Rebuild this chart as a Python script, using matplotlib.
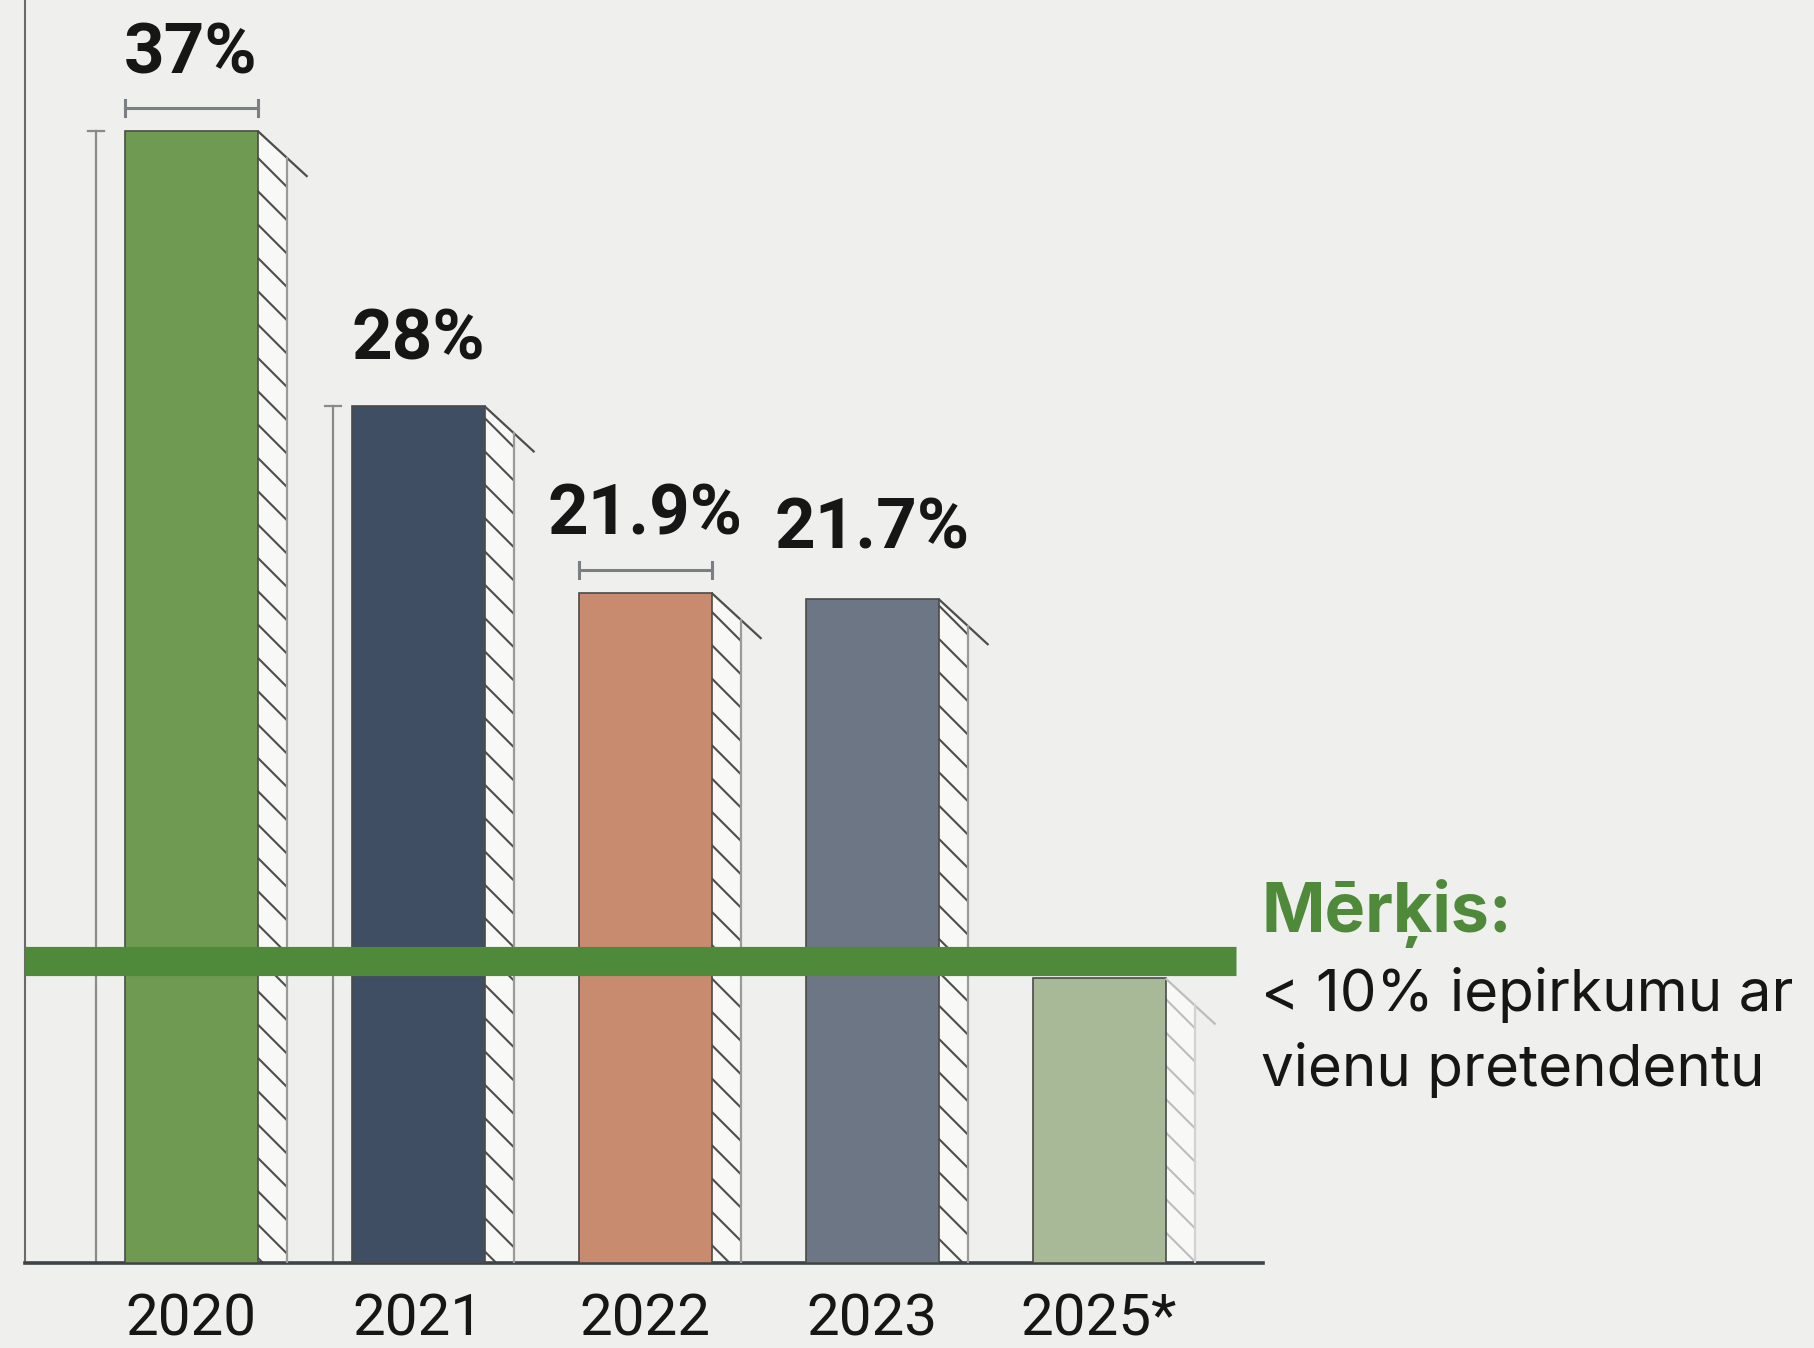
import matplotlib
matplotlib.use("Agg")
import matplotlib.pyplot as plt

# --- data -------------------------------------------------------------
years = ["2020", "2021", "2022", "2023", "2025*"]
shares = [37.0, 28.0, 21.9, 21.7, 9.3]          # % of procurements with a single bidder
value_labels = ["37%", "28%", "21.9%", "21.7%", ""]
target = 10.0
goal_title = "Mērķis:"
goal_lines = ["< 10% iepirkumu ar", "vienu pretendentu"]

# --- style ------------------------------------------------------------
bg = "#efefed"
bar_colors = ["#6f9a52", "#3f4e62", "#c98b6f", "#6d7684", "#a8b998"]
goal_color = "#4f8a3b"
text_color = "#161616"

W, H = 1814, 1348
base_px = 1263            # baseline row in pixels
px_per_y = 30.6           # pixels per percentage point
px_per_x = 227.0          # pixels between bar centres
x0_px = 191.0             # centre of first bar
left_px = 25

plt.rcParams["hatch.linewidth"] = 1.5

fig = plt.figure(figsize=(W / 100, H / 100), dpi=100, facecolor=bg)
ax = fig.add_axes([left_px / W, (H - base_px) / H, (base_px - left_px) / W, base_px / H])
ax.set_facecolor(bg)
ax.set_xlim(-(x0_px - left_px) / px_per_x, (base_px - x0_px) / px_per_x)
ax.set_ylim(0, base_px / px_per_y)


def dx(px):
    return px / px_per_x


def dy(px):
    return px / px_per_y


xs = list(range(len(years)))
bw = dx(133)
sw = dx(29)

for i, (x, v, c) in enumerate(zip(xs, shares, bar_colors)):
    faded = i == len(xs) - 1
    ax.bar(x, v, width=bw, color=c, edgecolor="#4a4a4a", linewidth=1.2, zorder=3)
    # hatched side strip with a slanted top
    hcol = "#bdbdbd" if faded else "#4d4d4d"
    xr = x + bw / 2
    ax.fill([xr, xr, xr + sw, xr + sw], [0, v, v - dy(27), 0],
            facecolor="#f8f8f6", hatch="\\", edgecolor=hcol, linewidth=0, zorder=2)
    ax.plot([xr, xr + dx(50)], [v, v - dy(46)], color=hcol, lw=1.6, zorder=4,
            solid_capstyle="butt")
    ax.plot([xr + sw, xr + sw], [0, v - dy(27)], color="#9a9a9a" if not faded else "#d2d2d2",
            lw=1.6, zorder=4)

# thin reference markers left of the first two bars
for i, gap in [(0, 29), (1, 19)]:
    lx = xs[i] - bw / 2 - dx(gap)
    ax.plot([lx, lx], [0, shares[i]], color="#8a8a8a", lw=1.6, zorder=2)
    ax.plot([lx - dx(8), lx + dx(8)], [shares[i], shares[i]], color="#8a8a8a", lw=1.6, zorder=2)

# width brackets above 2020 and 2022
for i in (0, 2):
    by = shares[i] + dy(23)
    l, r = xs[i] - bw / 2, xs[i] + bw / 2
    ax.plot([l, r], [by, by], color="#7a7f84", lw=2.2, zorder=3)
    for ex in (l, r):
        ax.plot([ex, ex], [by - dy(8), by + dy(8)], color="#7a7f84", lw=2.2, zorder=3)

# value labels
label_gap = [77, 66, 78, 70, 0]
for x, v, t, g in zip(xs, shares, value_labels, label_gap):
    if t:
        ax.text(x, v + dy(g), t, ha="center", va="center", fontsize=51,
                fontweight="bold", family="Roboto", color=text_color, zorder=5)

# target line
ax.hlines(target - dy(4), ax.get_xlim()[0], ax.get_xlim()[0] + dx(1236 - left_px),
          color=goal_color, lw=21, zorder=6, capstyle="butt")

# axes styling
for s in ("top", "right"):
    ax.spines[s].set_visible(False)
ax.spines["left"].set_color("#6a6a6a")
ax.spines["left"].set_linewidth(1.5)
ax.spines["bottom"].set_color("#3d4347")
ax.spines["bottom"].set_linewidth(2.6)
ax.set_yticks([])
ax.set_xticks(xs)
ax.set_xticklabels(years, fontsize=42, family="Roboto", color=text_color)
ax.tick_params(axis="x", length=0, pad=21)

# goal annotation
fig.text(1261 / W, 1 - 914 / H, goal_title, ha="left", va="center", fontsize=49,
         fontweight="bold", family="Inter", color=goal_color)
for k, line in enumerate(goal_lines):
    fig.text(1261 / W, 1 - (995 + 75 * k) / H, line, ha="left", va="center",
             fontsize=42, family="Inter", color=text_color)

fig.savefig("out.png", dpi=100, facecolor=bg)
